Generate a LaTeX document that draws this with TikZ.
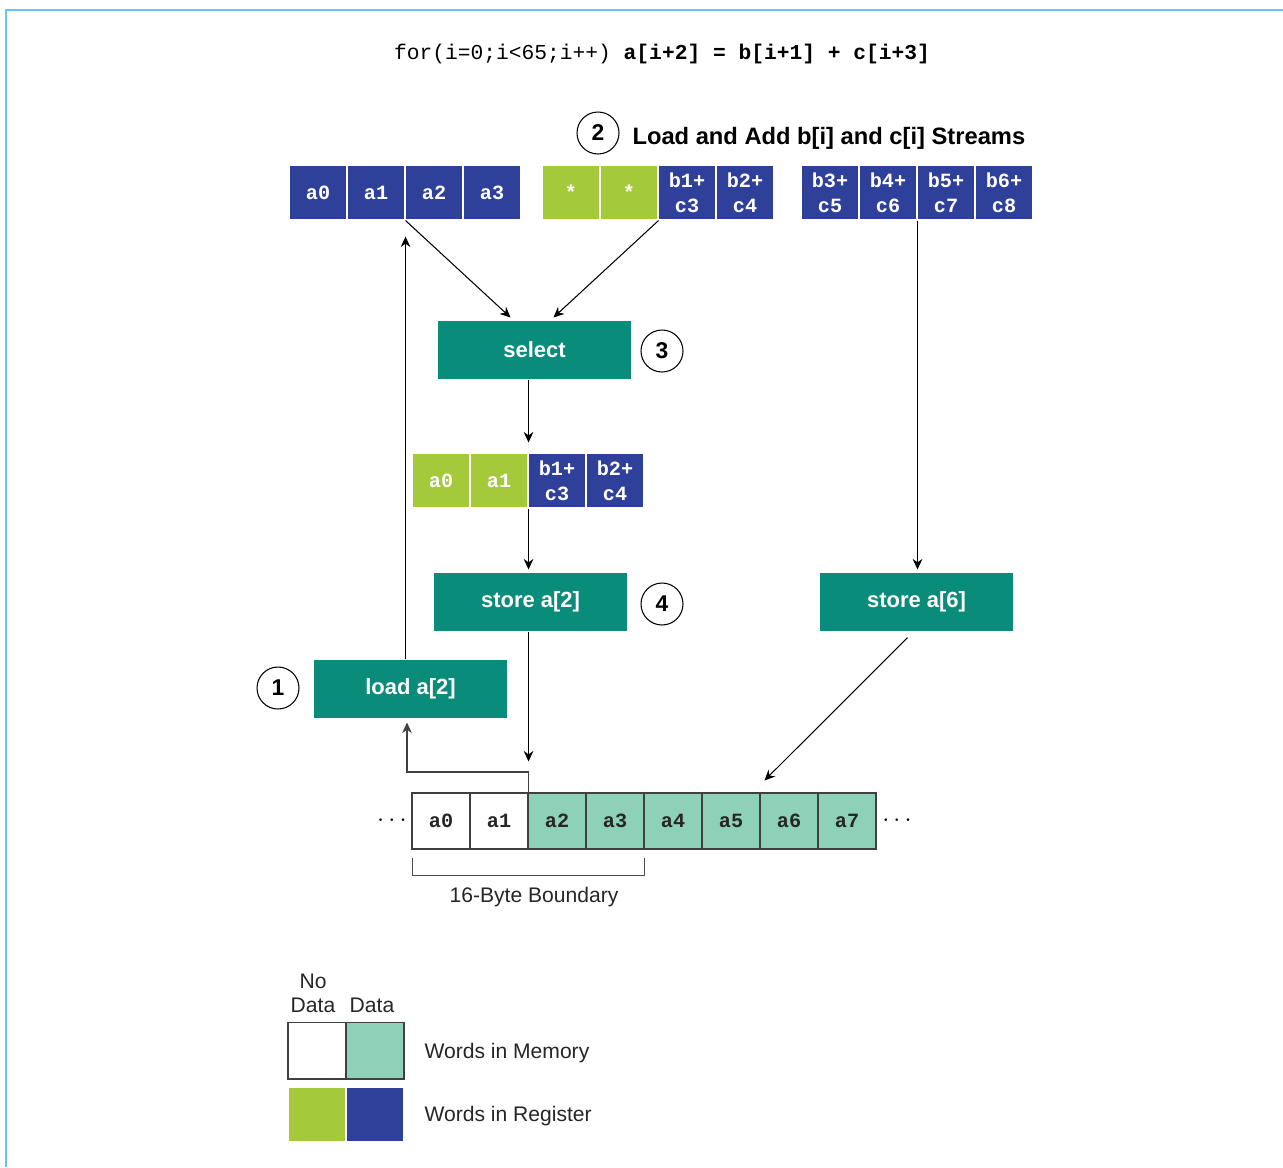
\documentclass[tikz,border=0pt]{standalone}
\usepackage{fontspec}
\setmainfont{Liberation Sans}
\setmonofont{Liberation Mono}
\usepackage{xcolor}
\usetikzlibrary{arrows.meta}
\usetikzlibrary{calc}

\definecolor{regblue}{RGB}{46,64,153}
\definecolor{reggreen}{RGB}{164,201,58}
\definecolor{opteal}{RGB}{10,140,122}
\definecolor{memteal}{RGB}{142,209,185}
\definecolor{framecol}{RGB}{102,194,255}

\begin{document}
\begin{tikzpicture}[
  x=0.02cm, y=-0.02cm,
  reg/.style={rectangle, draw=white, minimum width=1.16cm, minimum height=1.1cm, inner sep=0pt, text=white, align=center, font=\ttfamily\bfseries\fontsize{11.5}{14}\selectfont},
  regd/.style={reg, fill=regblue},
  regn/.style={reg, fill=reggreen},
  mem/.style={rectangle, draw=black!75, minimum width=1.16cm, minimum height=1.12cm, inner sep=0pt, text=black!85, font=\ttfamily\bfseries\fontsize{11.5}{14}\selectfont},
  memd/.style={mem, fill=memteal},
  op/.style={rectangle, fill=opteal, minimum width=3.86cm, minimum height=1.16cm, text=white, font=\bfseries\fontsize{12.5}{14}\selectfont},
  num/.style={circle, draw, minimum size=0.84cm, inner sep=0pt, font=\bfseries\fontsize{13}{15}\selectfont},
  lbl/.style={inner sep=0pt, text=black!85, font=\fontsize{12}{13.6}\selectfont},
  dots/.style={inner sep=0pt, font=\fontsize{14}{16}\selectfont},
  every path/.style={line width=0.6pt},
]
\tikzset{>={Stealth[length=6pt, width=5.5pt]}}
\useasboundingbox (0,0) rectangle (1283,1167);

  % Frame
  \draw[framecol, line width=1.3pt] (6,1167) -- (6,10) -- (1283,10);

  % Loop and title
  \node[inner sep=0pt, font=\ttfamily\fontsize{12.1}{14}\selectfont] (code) at (662,54) {for(i=0;i<65;i++) \textbf{a[i+2] = b[i+1] + c[i+3]}};
  \node[num] (n2) at (598,133) {2};
  \node[anchor=west, inner sep=0pt, font=\bfseries\fontsize{13.5}{15}\selectfont] (title) at (632,138) {Load and Add b[i] and c[i] Streams};

  % Registers
  \node[regd] (ra0) at (318,192.5) {a0};
  \node[regd] (ra1) at (376,192.5) {a1};
  \node[regd] (ra2) at (434,192.5) {a2};
  \node[regd] (ra3) at (492,192.5) {a3};

  \node[regn] (rb0) at (571,192.5) {*};
  \node[regn] (rb1) at (629,192.5) {*};
  \node[regd] (rb2) at (687,192.5) {b1+\\c3};
  \node[regd] (rb3) at (745,192.5) {b2+\\c4};

  \node[regd] (rs0) at (830,192.5) {b3+\\c5};
  \node[regd] (rs1) at (888,192.5) {b4+\\c6};
  \node[regd] (rs2) at (946,192.5) {b5+\\c7};
  \node[regd] (rs3) at (1004,192.5) {b6+\\c8};

  \node[regn] (rm0) at (441,480.5) {a0};
  \node[regn] (rm1) at (499,480.5) {a1};
  \node[regd] (rm2) at (557,480.5) {b1+\\c3};
  \node[regd] (rm3) at (615,480.5) {b2+\\c4};

  % Operations
  \node[op] (sel) at (534.5,350) {select};
  \node[num] (n3) at (662,351) {3};
  \node[op] (st2) at (530.5,602) {store a[2]};
  \node[num] (n4) at (662,604) {4};
  \node[op] (st6) at (916.5,602) {store a[6]};
  \node[op] (ld) at (410.5,689) {load a[2]};
  \node[num] (n1) at (278,688) {1};

  % Memory
  \node[mem] (ma0) at (441,821) {a0};
  \node[mem] (ma1) at (499,821) {a1};
  \node[memd] (ma2) at (557,821) {a2};
  \node[memd] (ma3) at (615,821) {a3};
  \node[memd] (ma4) at (673,821) {a4};
  \node[memd] (ma5) at (731,821) {a5};
  \node[memd] (ma6) at (789,821) {a6};
  \node[memd] (ma7) at (847,821) {a7};
  \node[dots] (ldots) at (392,821) {$\cdots$};
  \node[dots] (rdots) at (897,821) {$\cdots$};

  \draw[black!70] ($(ma0.south west)+(1,8)$) -- ($(ma0.south west)+(1,26)$) -| ($(ma3.south east)+(0,8)$);
  \node[lbl] (bound) at (534,897) {16-Byte Boundary};

  % Edges
  \draw[->] (ra1.south east) -- ($(sel.north)+(-24,-3)$);
  \draw[->] (rb1.south east) -- ($(sel.north)+(19,-3)$);
  \draw[->] (sel.south -| rm1.east) -- ($(rm1.north east)+(0,-10)$);
  \draw[->] (rm1.south east) -- ($(st2.north -| rm1.east)+(0,-3)$);
  \draw[->] (st2.south -| ma1.east) -- ($(ma1.north east)+(0,-31)$);
  \draw[->] (rs1.south east) -- ($(st6.north -| rs1.east)+(0,-3)$);
  \draw[->] ($(st6.south)+(-9,6)$) -- ($(ma6.north west)+(5,-12)$);
  \draw[->] (ld.north -| ra1.east) -- ($(ra1.south east)+(0,16)$);
  \coordinate (bend) at (407,772);
  \draw[->, black!75] (ma1.north east) |- (bend) -- ($(bend |- ld.south)+(0,4)$);

  % Legend
  \node[lbl, align=center] (nodata) at (313,993) {No\\Data};
  \node[lbl] (data) at (372,1005) {Data};
  \node[mem, minimum height=1.14cm] (kw) at (317,1050.5) {};
  \node[memd, minimum height=1.14cm] (kt) at (375,1050.5) {};
  \node[regn] (kg) at (317,1114.5) {};
  \node[regd] (kb) at (375,1114.5) {};
  \node[lbl, anchor=west] (wmem) at (424,1053) {Words in Memory};
  \node[lbl, anchor=west] (wreg) at (424,1116) {Words in Register};

\end{tikzpicture}
\end{document}
